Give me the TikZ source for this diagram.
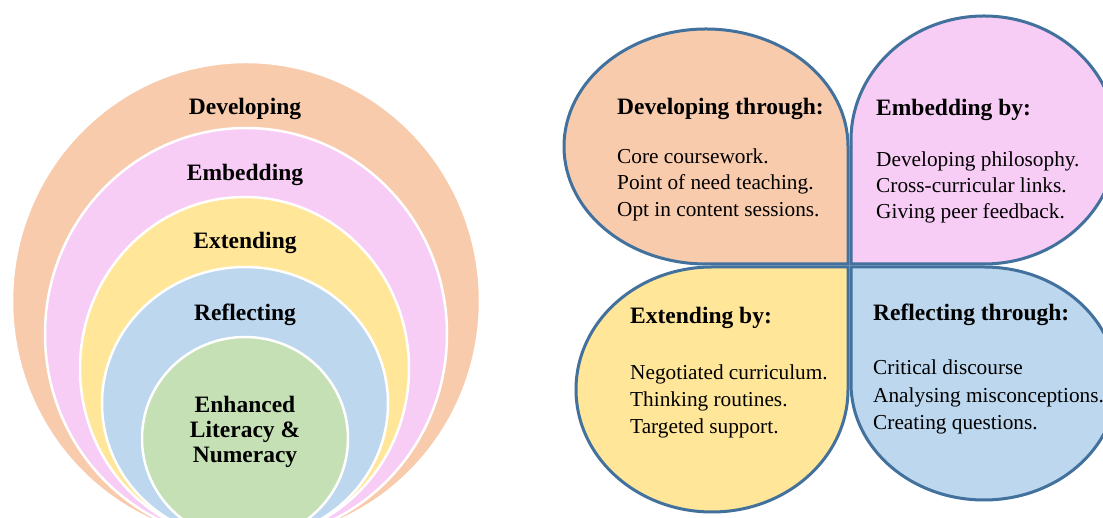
\documentclass[tikz,border=0pt]{standalone}
\usepackage{fontspec}
\setmainfont{Liberation Serif}
\newfontfamily\tnr{Liberation Serif}
\definecolor{cOrange}{HTML}{F8CBAD}
\definecolor{cPink}{HTML}{F7CCF5}
\definecolor{cYellow}{HTML}{FFE699}
\definecolor{cBlue}{HTML}{BDD7EE}
\definecolor{cGreen}{HTML}{C5E0B4}
\definecolor{cLine}{HTML}{41719C}
\tikzset{
  ring/.style={draw=white, line width=2.5pt},
  petal/.style={draw=cLine, line width=3pt, line join=miter},
  lbl/.style={font=\tnr\fontsize{23.5}{27}\selectfont\bfseries, inner sep=0pt, anchor=base},
  head/.style={font=\tnr\fontsize{23.5}{27}\selectfont\bfseries, inner sep=0pt, anchor=base west},
  body/.style={font=\tnr\fontsize{21.3}{26}\selectfont, inner sep=0pt, anchor=base west},
}
\begin{document}
\begin{tikzpicture}[x=1pt,y=1pt]
\useasboundingbox (0,0) rectangle (1103,518);
\clip (0,0) rectangle (1103,518);
% nested circles (left)
\fill[white] (0,0) rectangle (1103,518);
\draw[ring, fill=cOrange] (246,217) ellipse [x radius=234, y radius=239];
\draw[ring, fill=cPink] (246,184) ellipse [x radius=201, y radius=206];
\draw[ring, fill=cYellow] (244.5,149.5) ellipse [x radius=164.5, y radius=171.5];
\draw[ring, fill=cBlue] (245,114.5) ellipse [x radius=143, y radius=136.5];
\draw[ring, fill=cGreen] (245,79.5) ellipse [x radius=103, y radius=101.5];
\node[lbl] (l1) at (245,403) {Developing};
\node[lbl] (l2) at (245,337) {Embedding};
\node[lbl] (l3) at (245,269) {Extending};
\node[lbl] (l4) at (245,197) {Reflecting};
\node[lbl, align=center, anchor=north] (l5) at (245,122) {Enhanced\\[-2pt]Literacy \&\\[-2pt]Numeracy};
% petals (right)
\draw[petal, fill=cOrange] (848,371.5) arc [start angle=0, end angle=270, x radius=142, y radius=117.5] -- (848,254) -- cycle;
\draw[petal, fill=cPink] (984,254) arc [start angle=-90, end angle=180, x radius=133, y radius=124] -- (851,254) -- cycle;
\draw[petal, fill=cYellow] (712,251) arc [start angle=90, end angle=360, x radius=136, y radius=122.5] -- (848,251) -- cycle;
\draw[petal, fill=cBlue] (851,134.5) arc [start angle=180, end angle=450, x radius=133, y radius=116.5] -- (851,251) -- cycle;
% orange text
\node[head] (oh) at (617,403) {Developing through:};
\node[body] (o1) at (617,354) {Core coursework.};
\node[body] (o2) at (617,328) {Point of need teaching.};
\node[body] (o3) at (617,301) {Opt in content sessions.};
% pink text
\node[head] (ph) at (876,402) {Embedding by:};
\node[body] (p1) at (876,351) {Developing philosophy.};
\node[body] (p2) at (876,325) {Cross-curricular links.};
\node[body] (p3) at (876,299) {Giving peer feedback.};
% yellow text
\node[head] (yh) at (630,194) {Extending by:};
\node[body] (y1) at (630,138) {Negotiated curriculum.};
\node[body] (y2) at (630,111) {Thinking routines.};
\node[body] (y3) at (630,84) {Targeted support.};
% blue text
\node[head] (bh) at (873,197) {Reflecting through:};
\node[body] (b1) at (873,143) {Critical discourse};
\node[body] (b2) at (873,115) {Analysing misconceptions.};
\node[body] (b3) at (873,88) {Creating questions.};
\end{tikzpicture}
\end{document}
